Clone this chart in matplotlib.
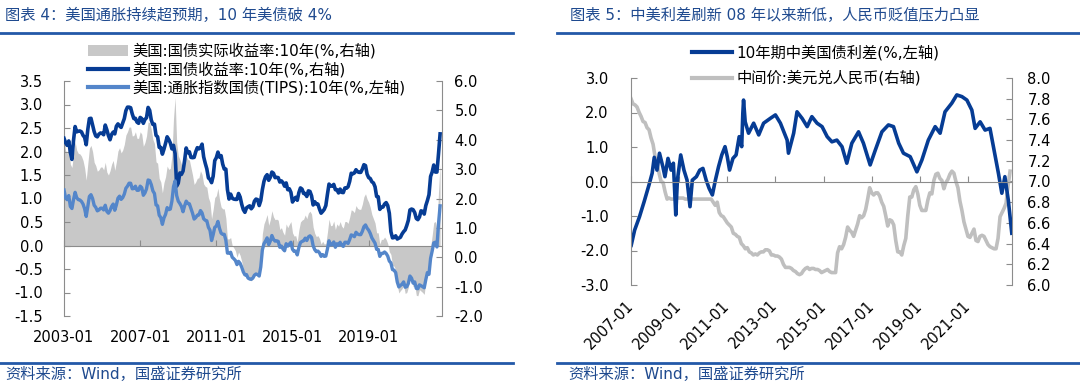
import numpy as np
import pandas as pd
import matplotlib
matplotlib.use("Agg")
import matplotlib.pyplot as plt
from matplotlib.lines import Line2D
from matplotlib.patches import Patch

plt.rcParams['font.family'] = ['DejaVu Sans', 'Noto Sans CJK SC']
plt.rcParams['axes.unicode_minus'] = False

# ---------------- left chart data (monthly, 2003-01 .. 2022-10) ----------------
left_months = pd.date_range('2003-01-01', '2022-10-01', freq='MS')
left_ticks = [2003, 2007, 2011, 2015, 2019]
left_ticklabels = ['2003-01', '2007-01', '2011-01', '2015-01', '2019-01']

# US 10y treasury yield (%, right axis)
us10y = [
    4.05, 3.90, 3.81, 3.96, 3.57, 3.33, 3.98, 4.45, 4.27, 4.29, 4.30, 4.27,
    4.15, 4.08, 3.83, 4.35, 4.72, 4.73, 4.50, 4.28, 4.13, 4.10, 4.19, 4.23,
    4.22, 4.17, 4.50, 4.34, 4.14, 4.00, 4.18, 4.26, 4.20, 4.46, 4.54, 4.47,
    4.42, 4.57, 4.72, 4.99, 5.11, 5.11, 5.09, 4.88, 4.72, 4.73, 4.60, 4.56,
    4.76, 4.72, 4.56, 4.69, 4.75, 5.10, 5.00, 4.67, 4.52, 4.53, 4.15, 4.10,
    3.74, 3.74, 3.51, 3.68, 3.88, 4.10, 4.01, 3.89, 3.69, 3.81, 3.53, 2.42,
    2.52, 2.87, 2.82, 2.93, 3.29, 3.72, 3.56, 3.59, 3.40, 3.39, 3.40, 3.59,
    3.73, 3.69, 3.73, 3.85, 3.42, 3.20, 3.01, 2.70, 2.65, 2.54, 2.76, 3.29,
    3.39, 3.58, 3.41, 3.46, 3.17, 3.00, 3.00, 2.30, 1.98, 2.15, 2.01, 1.98,
    1.97, 1.97, 2.17, 2.05, 1.80, 1.62, 1.53, 1.68, 1.72, 1.75, 1.65, 1.72,
    1.91, 1.98, 1.96, 1.76, 1.93, 2.30, 2.58, 2.74, 2.81, 2.62, 2.72, 2.90,
    2.86, 2.71, 2.72, 2.71, 2.56, 2.60, 2.54, 2.42, 2.53, 2.30, 2.33, 2.21,
    1.88, 1.98, 2.04, 1.94, 2.20, 2.36, 2.32, 2.17, 2.17, 2.07, 2.26, 2.24,
    2.09, 1.78, 1.89, 1.81, 1.81, 1.64, 1.50, 1.56, 1.63, 1.76, 2.14, 2.49,
    2.43, 2.42, 2.48, 2.30, 2.30, 2.19, 2.32, 2.21, 2.20, 2.36, 2.35, 2.40,
    2.58, 2.86, 2.84, 2.87, 2.98, 2.91, 2.89, 2.89, 3.00, 3.15, 3.12, 2.83,
    2.71, 2.68, 2.57, 2.53, 2.40, 2.07, 2.06, 1.63, 1.70, 1.71, 1.81, 1.86,
    1.76, 1.50, 0.87, 0.66, 0.67, 0.73, 0.62, 0.65, 0.68, 0.79, 0.87, 0.93,
    1.08, 1.26, 1.61, 1.64, 1.62, 1.52, 1.32, 1.28, 1.37, 1.58, 1.56, 1.47,
    1.76, 1.93, 2.13, 2.75, 2.90, 3.14, 2.90, 2.90, 3.52, 4.20,
]

# US 10y TIPS yield (%)
tips10y = [
    2.29, 2.02, 1.96, 2.10, 1.73, 1.66, 1.96, 2.21, 2.03, 1.96, 1.95, 1.90,
    1.81, 1.65, 1.39, 1.74, 2.07, 2.13, 2.00, 1.77, 1.70, 1.58, 1.61, 1.67,
    1.67, 1.61, 1.77, 1.56, 1.50, 1.59, 1.73, 1.81, 1.60, 1.78, 2.01, 2.08,
    1.97, 2.03, 2.15, 2.35, 2.42, 2.52, 2.52, 2.33, 2.34, 2.42, 2.28, 2.28,
    2.42, 2.37, 2.11, 2.19, 2.33, 2.63, 2.61, 2.47, 2.26, 2.17, 1.78, 1.75,
    1.43, 1.35, 1.12, 1.34, 1.46, 1.69, 1.62, 1.64, 1.91, 2.40, 2.60, 2.10,
    1.91, 1.83, 1.73, 1.55, 1.75, 1.91, 1.83, 1.82, 1.66, 1.50, 1.30, 1.35,
    1.43, 1.44, 1.59, 1.51, 1.31, 1.26, 1.24, 1.02, 0.92, 0.57, 0.77, 1.02,
    1.06, 1.22, 0.98, 0.82, 0.78, 0.78, 0.58, 0.14, 0.14, 0.17, 0.00, -0.05,
    -0.11, -0.25, -0.14, -0.21, -0.34, -0.50, -0.60, -0.59, -0.71, -0.74, -0.75, -0.71,
    -0.61, -0.57, -0.59, -0.64, -0.33, 0.25, 0.46, 0.55, 0.66, 0.43, 0.55, 0.74,
    0.61, 0.55, 0.56, 0.54, 0.34, 0.38, 0.28, 0.22, 0.46, 0.38, 0.45, 0.51,
    0.27, 0.20, 0.21, 0.08, 0.33, 0.50, 0.54, 0.56, 0.65, 0.57, 0.69, 0.73,
    0.67, 0.39, 0.26, 0.19, 0.21, 0.15, 0.03, 0.09, 0.03, 0.04, 0.28, 0.56,
    0.42, 0.43, 0.52, 0.34, 0.46, 0.41, 0.51, 0.41, 0.37, 0.51, 0.51, 0.47,
    0.60, 0.76, 0.74, 0.70, 0.85, 0.79, 0.77, 0.77, 0.88, 1.04, 1.10, 0.99,
    0.92, 0.81, 0.66, 0.57, 0.48, 0.27, 0.27, 0.03, 0.13, 0.13, 0.18, 0.13,
    0.04, -0.13, -0.19, -0.42, -0.44, -0.52, -0.84, -1.01, -0.96, -0.92, -0.84, -1.02,
    -1.00, -0.89, -0.64, -0.71, -0.88, -0.84, -1.06, -1.07, -0.94, -0.97, -1.00, -1.04,
    -0.76, -0.52, -0.58, -0.04, 0.21, 0.49, 0.51, 0.35, 1.14, 1.75,
]

# US 10y real yield (%, grey area)
real_yield = [
    2.29, 2.02, 1.96, 2.10, 1.73, 1.66, 1.96, 2.21, 2.03, 1.96, 1.95, 1.90,
    1.81, 1.65, 1.39, 1.74, 2.07, 2.13, 2.00, 1.77, 1.70, 1.58, 1.61, 1.67,
    1.67, 1.61, 1.77, 1.56, 1.50, 1.59, 1.73, 1.81, 1.60, 1.78, 2.01, 2.08,
    1.97, 2.03, 2.15, 2.35, 2.42, 2.52, 2.52, 2.33, 2.34, 2.42, 2.28, 2.28,
    2.42, 2.37, 2.11, 2.19, 2.33, 2.63, 2.61, 2.47, 2.26, 2.17, 1.78, 1.75,
    1.43, 1.35, 1.12, 1.34, 1.46, 1.69, 1.62, 1.64, 1.91, 2.70, 3.15, 2.20,
    1.91, 1.83, 1.73, 1.55, 1.75, 1.91, 1.83, 1.82, 1.66, 1.50, 1.30, 1.35,
    1.43, 1.44, 1.59, 1.51, 1.31, 1.26, 1.24, 1.02, 0.92, 0.57, 0.77, 1.02,
    1.06, 1.22, 0.98, 0.82, 0.78, 0.78, 0.58, 0.14, 0.14, 0.17, 0.00, -0.05,
    -0.11, -0.25, -0.14, -0.21, -0.34, -0.50, -0.60, -0.59, -0.71, -0.74, -0.75, -0.71,
    -0.61, -0.57, -0.59, -0.64, -0.33, 0.25, 0.46, 0.55, 0.66, 0.43, 0.55, 0.74,
    0.61, 0.55, 0.56, 0.54, 0.34, 0.38, 0.28, 0.22, 0.46, 0.38, 0.45, 0.51,
    0.27, 0.20, 0.21, 0.08, 0.33, 0.50, 0.54, 0.56, 0.65, 0.57, 0.69, 0.73,
    0.67, 0.39, 0.26, 0.19, 0.21, 0.15, 0.03, 0.09, 0.03, 0.04, 0.28, 0.56,
    0.42, 0.43, 0.52, 0.34, 0.46, 0.41, 0.51, 0.41, 0.37, 0.51, 0.51, 0.47,
    0.60, 0.76, 0.74, 0.70, 0.85, 0.79, 0.77, 0.77, 0.88, 1.04, 1.10, 0.99,
    0.92, 0.81, 0.66, 0.57, 0.48, 0.27, 0.27, 0.03, 0.13, 0.13, 0.18, 0.13,
    0.04, -0.13, -0.19, -0.42, -0.44, -0.52, -0.84, -1.01, -0.96, -0.92, -0.84, -1.02,
    -1.00, -0.89, -0.64, -0.71, -0.88, -0.84, -1.06, -1.07, -0.94, -0.97, -1.00, -1.04,
    -0.76, -0.52, -0.58, -0.04, 0.21, 0.49, 0.51, 0.35, 1.14, 1.75,
]

# ---------------- right chart data ----------------
right_months = pd.date_range('2007-01-01', '2022-10-01', freq='MS')
right_ticks = [2007, 2009, 2011, 2013, 2015, 2017, 2019, 2021]
right_ticklabels = ['2007-01', '2009-01', '2011-01', '2013-01',
                    '2015-01', '2017-01', '2019-01', '2021-01']

# USD/CNY central parity (right axis)
usdcny = [
    7.80, 7.75, 7.74, 7.72, 7.67, 7.63, 7.58, 7.57, 7.52, 7.50, 7.42, 7.36,
    7.24, 7.17, 7.08, 7.00, 6.99, 6.90, 6.83, 6.84, 6.83, 6.83, 6.83, 6.84,
    6.84, 6.84, 6.84, 6.83, 6.83, 6.83, 6.83, 6.83, 6.83, 6.83, 6.83, 6.83,
    6.83, 6.83, 6.83, 6.83, 6.83, 6.80, 6.77, 6.80, 6.70, 6.67, 6.66, 6.63,
    6.60, 6.58, 6.56, 6.50, 6.49, 6.47, 6.46, 6.40, 6.38, 6.35, 6.36, 6.32,
    6.31, 6.29, 6.30, 6.29, 6.31, 6.32, 6.32, 6.34, 6.34, 6.33, 6.29, 6.29,
    6.28, 6.28, 6.27, 6.25, 6.20, 6.17, 6.17, 6.17, 6.16, 6.14, 6.13, 6.11,
    6.10, 6.11, 6.14, 6.16, 6.17, 6.15, 6.16, 6.16, 6.15, 6.15, 6.14, 6.12,
    6.13, 6.14, 6.15, 6.13, 6.12, 6.12, 6.12, 6.31, 6.37, 6.35, 6.39, 6.46,
    6.56, 6.53, 6.51, 6.47, 6.53, 6.59, 6.67, 6.65, 6.67, 6.73, 6.83, 6.94,
    6.89, 6.87, 6.89, 6.89, 6.86, 6.80, 6.76, 6.67, 6.57, 6.63, 6.62, 6.58,
    6.43, 6.32, 6.32, 6.29, 6.38, 6.45, 6.67, 6.85, 6.85, 6.92, 6.95, 6.88,
    6.77, 6.72, 6.72, 6.72, 6.82, 6.89, 6.88, 7.01, 7.07, 7.08, 7.03, 7.01,
    6.93, 6.99, 7.02, 7.07, 7.10, 7.08, 7.00, 6.94, 6.81, 6.72, 6.61, 6.54,
    6.47, 6.46, 6.50, 6.54, 6.43, 6.42, 6.47, 6.48, 6.47, 6.43, 6.39, 6.37,
    6.36, 6.35, 6.35, 6.45, 6.66, 6.70, 6.74, 6.79, 6.96, 7.10,
]

# China - US 10y government bond spread (%, left axis)
spread_dates = [
    '2007-01-04', '2007-02-25', '2007-05-10', '2007-07-20', '2007-10-01', '2007-11-18',
    '2007-12-20', '2008-01-30', '2008-03-08', '2008-04-28', '2008-05-30', '2008-07-15',
    '2008-09-01', '2008-10-05', '2008-11-10', '2008-12-05', '2009-01-25', '2009-03-15',
    '2009-05-01', '2009-06-15', '2009-07-20', '2009-09-20', '2009-11-10', '2009-12-28',
    '2010-02-15', '2010-04-01', '2010-05-20', '2010-07-05', '2010-08-22', '2010-10-10',
    '2010-11-28', '2011-01-01', '2011-02-05', '2011-03-28', '2011-05-15', '2011-07-01',
    '2011-08-08', '2011-08-25', '2011-09-05', '2011-09-30', '2011-11-20', '2012-02-05',
    '2012-04-22', '2012-07-05', '2012-10-15', '2013-01-01', '2013-03-18', '2013-06-28',
    '2013-07-18', '2013-10-05', '2013-11-25', '2014-02-10', '2014-04-28', '2014-07-08',
    '2014-09-25', '2014-12-10', '2015-02-25', '2015-05-08', '2015-07-22', '2015-10-08',
    '2015-12-20', '2016-03-05', '2016-06-15', '2016-08-28', '2016-12-08', '2017-02-25',
    '2017-06-05', '2017-09-12', '2017-11-28', '2018-02-15', '2018-04-28', '2018-08-08',
    '2018-11-18', '2019-02-01', '2019-05-10', '2019-08-22', '2019-11-05', '2020-01-18',
    '2020-04-30', '2020-07-15', '2020-10-01', '2020-12-15', '2021-03-01', '2021-04-20',
    '2021-07-05', '2021-09-18', '2021-12-01', '2022-01-22', '2022-04-08', '2022-05-30',
    '2022-07-15', '2022-09-05', '2022-10-28',
]
spread = [
    -1.85, -1.41, -1.02, -0.58, -0.10, 0.24,
    0.70, 0.33, 0.82, 0.43, 0.14, 0.67,
    0.33, 0.53, -0.97, 0.04, 0.77, 0.33,
    0.04, -0.73, 0.04, 0.14, 0.33, 0.38,
    0.04, -0.20, -0.39, 0.04, 0.43, 0.77,
    1.01, 0.72, 0.33, 0.67, 0.77, 1.30,
    1.01, 1.98, 2.36, 1.73, 1.40, 1.69,
    1.35, 1.69, 1.83, 1.93, 1.69, 1.20,
    0.82, 1.40, 2.02, 1.83, 1.59, 1.88,
    1.69, 1.59, 1.30, 1.15, 1.20, 1.01,
    0.53, 1.11, 1.44, 1.11, 0.48, 0.91,
    1.44, 1.64, 1.59, 1.11, 0.82, 0.72,
    0.28, 0.62, 1.20, 1.59, 1.40, 2.02,
    2.27, 2.51, 2.46, 2.36, 2.07, 1.54,
    1.73, 1.49, 1.54, 1.01, 0.24, -0.34,
    0.14, -0.54, -1.50,
]


def month_years(idx):
    return idx.year + (idx.month - 1) / 12.0


def day_years(strs):
    d = pd.to_datetime(strs)
    return d.year + (d.dayofyear - 1) / 365.25


DARK = '#063C94'
LIGHT = '#5486CA'
GREY_FILL = '#C8C8C8'
GREY_LINE = '#BFBFBF'
SPINE = '#8C8C8C'
TITLE_C = '#1F4A8F'
RULE_C = '#2358A8'

W, H = 1080, 389
fig = plt.figure(figsize=(W / 100, H / 100), dpi=100)


def fx(px):
    return px / W


def fy(py):
    return 1 - py / H


def style_axes(ax, ax2, ticks, ticklabels, lpad, rpad, rotate=False):
    for s in ['top', 'right']:
        ax.spines[s].set_visible(False)
    ax.spines['left'].set_color(SPINE)
    ax.spines['bottom'].set_color(SPINE)
    ax.spines['bottom'].set_position(('data', 0))
    for s in ['top', 'left', 'bottom']:
        ax2.spines[s].set_visible(False)
    ax2.spines['right'].set_color(SPINE)
    ax.set_xticks(ticks)
    ax.tick_params(axis='x', direction='in', length=4, color=SPINE, labelbottom=False)
    ax.tick_params(axis='y', direction='in', length=4, color=SPINE, pad=lpad, labelsize=10.5)
    ax2.tick_params(axis='y', direction='in', length=4, color=SPINE, pad=rpad, labelsize=10.5)
    sec = ax.secondary_xaxis('bottom')
    sec.spines['bottom'].set_visible(False)
    sec.set_xticks(ticks)
    if rotate:
        sec.set_xticklabels(ticklabels, rotation=45, ha='right', va='center',
                            rotation_mode='anchor')
        sec.tick_params(length=0, pad=13, labelsize=10.5)
    else:
        sec.set_xticklabels(ticklabels)
        sec.tick_params(length=0, pad=10, labelsize=10.5)


# ---------------- left chart ----------------
axL = fig.add_axes([fx(64), fy(316), fx(378), 235 / H])
axL2 = axL.twinx()
xl = month_years(left_months)
axL.fill_between(xl, 0, real_yield, color=GREY_FILL, lw=0, zorder=1)
axL2.plot(xl, us10y, color=DARK, lw=2.6, solid_joinstyle='round')
axL2.plot(xl, tips10y, color=LIGHT, lw=2.4, solid_joinstyle='round')
axL.set_xlim(2003.0, 2022.85)
axL.set_ylim(-1.5, 3.5)
axL.set_yticks(np.arange(-1.5, 3.51, 0.5))
axL.yaxis.set_major_formatter(matplotlib.ticker.FormatStrFormatter('%.1f'))
axL2.set_ylim(-2, 6)
axL2.set_yticks(np.arange(-2, 6.1, 1))
axL2.yaxis.set_major_formatter(matplotlib.ticker.FormatStrFormatter('%.1f'))
style_axes(axL, axL2, left_ticks, left_ticklabels, lpad=15, rpad=9)

fig.legend(
    handles=[Patch(facecolor=GREY_FILL, edgecolor='none'),
             Line2D([], [], color=DARK, lw=3),
             Line2D([], [], color=LIGHT, lw=3)],
    labels=['美国:国债实际收益率:10年(%,右轴)', '美国:国债收益率:10年(%,右轴)',
            '美国:通胀指数国债(TIPS):10年(%,左轴)'],
    loc='upper left', bbox_to_anchor=(fx(88), fy(43)), frameon=False,
    fontsize=11, handlelength=2.6, handletextpad=0.3, labelspacing=0.17,
    borderpad=0, borderaxespad=0)

# ---------------- right chart ----------------
axR = fig.add_axes([fx(631), fy(285), fx(381), 207 / H])
axR2 = axR.twinx()
axR2.plot(month_years(right_months), usdcny, color=GREY_LINE, lw=2.6)
axR.plot(day_years(spread_dates), spread, color=DARK, lw=2.6)
axR.set_zorder(axR2.get_zorder() + 1)
axR.patch.set_visible(False)
axR.set_xlim(2007.0, 2022.83)
axR.set_ylim(-3, 3)
axR.set_yticks(np.arange(-3, 3.1, 1))
axR.yaxis.set_major_formatter(matplotlib.ticker.FormatStrFormatter('%.1f'))
axR2.set_ylim(6.0, 8.0)
axR2.set_yticks(np.arange(6.0, 8.01, 0.2))
axR2.yaxis.set_major_formatter(matplotlib.ticker.FormatStrFormatter('%.1f'))
style_axes(axR, axR2, right_ticks, right_ticklabels, lpad=16, rpad=11, rotate=True)

fig.legend(
    handles=[Line2D([], [], color=DARK, lw=3), Line2D([], [], color=GREY_LINE, lw=3)],
    labels=['10年期中美国债利差(%,左轴)', '中间价:美元兑人民币(右轴)'],
    loc='upper left', bbox_to_anchor=(fx(692), fy(45)), frameon=False,
    fontsize=11, handlelength=2.6, handletextpad=0.3, labelspacing=0.62,
    borderpad=0, borderaxespad=0)

# ---------------- titles, rules, sources ----------------
fig.text(fx(5), fy(15), '图表 4：美国通胀持续超预期，10 年美债破 4%', fontsize=11,
         color=TITLE_C, va='center', ha='left')
fig.text(fx(570), fy(15), '图表 5：中美利差刷新 08 年以来新低，人民币贬值压力凸显', fontsize=11,
         color=TITLE_C, va='center', ha='left')
for x0, x1 in [(0, 513), (557, 1080)]:
    fig.add_artist(Line2D([fx(x0), fx(x1)], [fy(32.5), fy(32.5)], color=RULE_C, lw=2))
    fig.add_artist(Line2D([fx(x0), fx(x1)], [fy(363), fy(363)], color=RULE_C, lw=2))
fig.text(fx(5), fy(374), '资料来源：Wind，国盛证券研究所', fontsize=11,
         color=TITLE_C, va='center', ha='left')
fig.text(fx(568), fy(374), '资料来源：Wind，国盛证券研究所', fontsize=11,
         color=TITLE_C, va='center', ha='left')

fig.savefig('out.png', dpi=100)
